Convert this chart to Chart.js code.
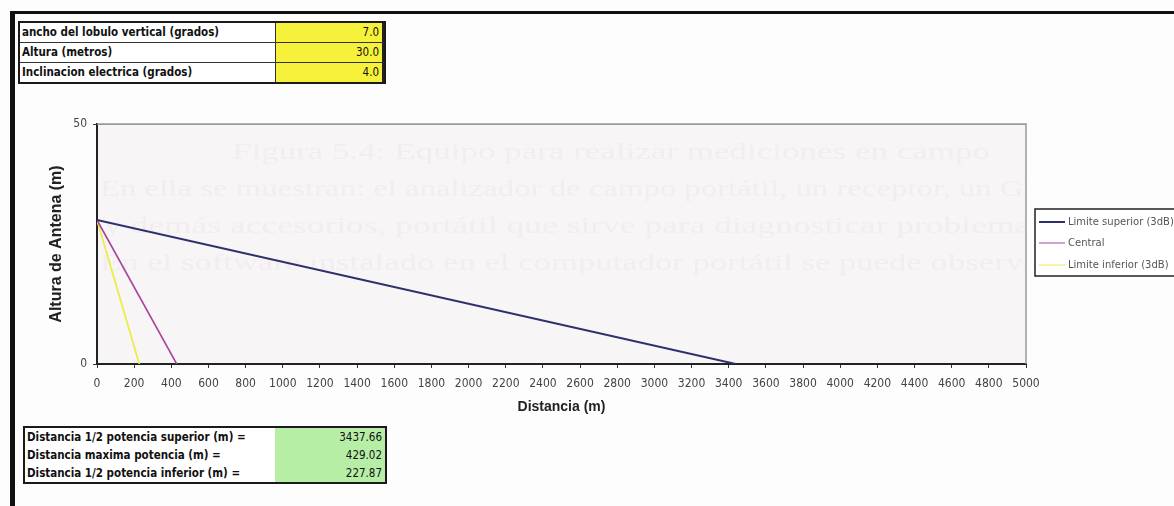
<!DOCTYPE html>
<html lang="es">
<head>
<meta charset="utf-8">
<title>Distancia de cobertura de la antena</title>
<script src="https://cdn.jsdelivr.net/npm/chart.js@4.4.1/dist/chart.umd.min.js"></script>
<style>
  html, body { margin: 0; padding: 0; background: #fdfdfd; }
  body { width: 1174px; height: 506px; position: relative; overflow: hidden; }
  #frameTop { position: absolute; left: 10px; top: 11px; width: 1164px; height: 3px; background: #111; }
  #frameLeft { position: absolute; left: 10px; top: 11px; width: 5px; height: 495px; background: #111; }
  canvas { position: absolute; left: 0; top: 0; }
  .tbl { position: absolute; border: 2px solid #1a1a1a; background: #fff;
         font-family: "DejaVu Sans Condensed", "DejaVu Sans", sans-serif; font-weight: bold; font-size: 11.5px; color: #111; }
  .row { position: relative; display: flex; }
  .lab { padding-left: 2px; white-space: nowrap; overflow: hidden; }
  .val { text-align: right; padding-right: 3px; box-sizing: border-box; white-space: nowrap; font-weight: normal; }
  #params .row { height: 19px; line-height: 19px; }
  #params .row + .row { border-top: 1px solid #333; }
  #params .lab { width: 253px; border-right: 1px solid #333; }
  #params .val { width: 108px; background: #f6f13a; border-right: 2px solid #222; }
  #results .row { height: 18px; line-height: 18px; }
  #results .lab { width: 248px; }
  #results .val { width: 110px; background: #b6eea6; }
</style>
</head>
<body>
<div id="frameTop"></div>
<div id="frameLeft"></div>
<canvas id="chart" width="1174" height="506"></canvas>
<div class="tbl" id="params" style="left:18px; top:21px;"></div>
<div class="tbl" id="results" style="left:23px; top:426px;"></div>
<script>
// Antenna parameters
const paramLabels = ['ancho del lobulo vertical (grados)', 'Altura (metros)', 'Inclinacion electrica (grados)'];
const paramValues = ['7.0', '30.0', '4.0'];

// Ground distances where each beam edge reaches the floor
const resultLabels = ['Distancia 1/2 potencia superior (m) =', 'Distancia maxima potencia (m) =', 'Distancia 1/2 potencia inferior (m) ='];
const resultValues = ['3437.66', '429.02', '227.87'];

// Beam lines: from the antenna height down to ground level
const seriesLabels = ['Limite superior (3dB)', 'Central', 'Limite inferior (3dB)'];
const superiorX = [0, 3437.66];
const centralX = [0, 429.02];
const inferiorX = [0, 227.87];
const heightY = [30, 0];
const seriesColors = ['#2f2f6c', '#a8449e', '#ecec4a'];

// Axis ranges
const xRange = [0, 5000];
const xStep = 200;
const yRange = [0, 50];
const yStep = 50;

// Text lines showing through from the reverse of the sheet
const throughLines = [
  'Figura 5.4: Equipo para realizar mediciones en campo',
  'En ella se muestran: el analizador de campo portátil, un receptor, un GPS',
  'y demás accesorios, portátil que sirve para diagnosticar problemas',
  'En el software instalado en el computador portátil se puede observar'
];

function fillTable(id, labels, values) {
  const el = document.getElementById(id);
  labels.forEach((t, i) => {
    const row = document.createElement('div');
    row.className = 'row';
    const a = document.createElement('div');
    a.className = 'lab';
    a.textContent = t;
    const b = document.createElement('div');
    b.className = 'val';
    b.textContent = values[i];
    row.appendChild(a);
    row.appendChild(b);
    el.appendChild(row);
  });
}
fillTable('params', paramLabels, paramValues);
fillTable('results', resultLabels, resultValues);

const toPoints = (xs, ys) => xs.map((x, i) => ({ x: x, y: ys[i] }));

// Draws a line of text stretched to a given width
function stretchedText(ctx, text, x, y, width) {
  const w = ctx.measureText(text).width;
  ctx.save();
  ctx.translate(x, y);
  ctx.scale(width / w, 1);
  ctx.fillText(text, 0, 0);
  ctx.restore();
}

const plotBackground = {
  id: 'plotBackground',
  beforeDraw(chart) {
    const { ctx, chartArea: a } = chart;
    ctx.save();
    ctx.fillStyle = '#f8f5f7';
    ctx.fillRect(a.left, a.top, a.right - a.left, a.bottom - a.top);
    // faint print-through
    ctx.beginPath();
    ctx.rect(a.left, a.top, a.right - a.left, a.bottom - a.top);
    ctx.clip();
    ctx.fillStyle = 'rgba(220, 195, 208, 0.16)';
    ctx.font = '24px "Liberation Serif", serif';
    ctx.textBaseline = 'middle';
    stretchedText(ctx, throughLines[0], 232, 153, 758);
    stretchedText(ctx, throughLines[1], 100, 190, 960);
    stretchedText(ctx, throughLines[2], 104, 227, 940);
    stretchedText(ctx, throughLines[3], 100, 264, 950);
    ctx.restore();
  },
  beforeDatasetsDraw(chart) {
    const { ctx, chartArea: a } = chart;
    ctx.save();
    ctx.strokeStyle = '#9a9a9a';
    ctx.lineWidth = 1.5;
    ctx.beginPath();
    ctx.moveTo(a.left, a.top);
    ctx.lineTo(a.right, a.top);
    ctx.lineTo(a.right, a.bottom);
    ctx.stroke();
    ctx.restore();
  }
};

const boxLegend = {
  id: 'boxLegend',
  afterDraw(chart) {
    const { ctx } = chart;
    const x = 1035, y = 209, w = 150, h = 67;
    ctx.save();
    ctx.fillStyle = '#ffffff';
    ctx.fillRect(x, y, w, h);
    ctx.strokeStyle = '#222';
    ctx.lineWidth = 1.5;
    ctx.strokeRect(x, y, w, h);
    ctx.font = '10px "DejaVu Sans", sans-serif';
    ctx.textBaseline = 'middle';
    const rows = [222, 243, 265];
    chart.data.datasets.forEach((ds, i) => {
      ctx.strokeStyle = ds.borderColor;
      ctx.lineWidth = i === 0 ? 2 : 1;
      ctx.beginPath();
      ctx.moveTo(x + 4, rows[i]);
      ctx.lineTo(x + 30, rows[i]);
      ctx.stroke();
      ctx.fillStyle = '#555';
      ctx.fillText(ds.label, x + 33, rows[i]);
    });
    ctx.restore();
  }
};

const tickFont = { family: '"DejaVu Sans Condensed", "DejaVu Sans", sans-serif', size: 12 };

new Chart(document.getElementById('chart'), {
  type: 'scatter',
  data: {
    datasets: [
      { label: seriesLabels[0], data: toPoints(superiorX, heightY), borderColor: seriesColors[0], borderWidth: 2 },
      { label: seriesLabels[1], data: toPoints(centralX, heightY), borderColor: seriesColors[1], borderWidth: 1.6 },
      { label: seriesLabels[2], data: toPoints(inferiorX, heightY), borderColor: seriesColors[2], borderWidth: 1.8 }
    ].map(d => Object.assign(d, { showLine: true, pointRadius: 0, backgroundColor: d.borderColor }))
  },
  options: {
    responsive: false,
    animation: false,
    devicePixelRatio: 1,
    layout: { padding: { left: 45, right: 148, top: 124, bottom: 82 } },
    plugins: { legend: { display: false }, tooltip: { enabled: false } },
    scales: {
      x: {
        type: 'linear',
        min: xRange[0], max: xRange[1],
        ticks: { stepSize: xStep, color: '#444', padding: 9, maxRotation: 0, autoSkip: false,
                 font: tickFont, callback: v => String(v) },
        grid: { drawOnChartArea: false, drawTicks: true, tickLength: 4, tickColor: '#333' },
        border: { color: '#222', width: 2 },
        title: { display: true, text: 'Distancia (m)', color: '#222', padding: { top: 4, bottom: 8 },
                 font: { family: '"Liberation Sans", Arial, sans-serif', size: 14, weight: 'bold' } },
        afterFit(scale) { scale.height = 60; }
      },
      y: {
        min: yRange[0], max: yRange[1],
        ticks: { stepSize: yStep, color: '#444', padding: 6, font: tickFont, callback: v => String(v) },
        grid: { color: '#9a9a9a', drawTicks: true, tickLength: 4, tickColor: '#333' },
        border: { color: '#222', width: 2 },
        title: { display: true, text: 'Altura de Antena (m)', color: '#222', padding: { top: 2, bottom: 2 },
                 font: { family: '"Liberation Sans", Arial, sans-serif', size: 16, weight: 'bold' } },
        afterFit(scale) { scale.width = 52; }
      }
    }
  },
  plugins: [plotBackground, boxLegend]
});
</script>
</body>
</html>
